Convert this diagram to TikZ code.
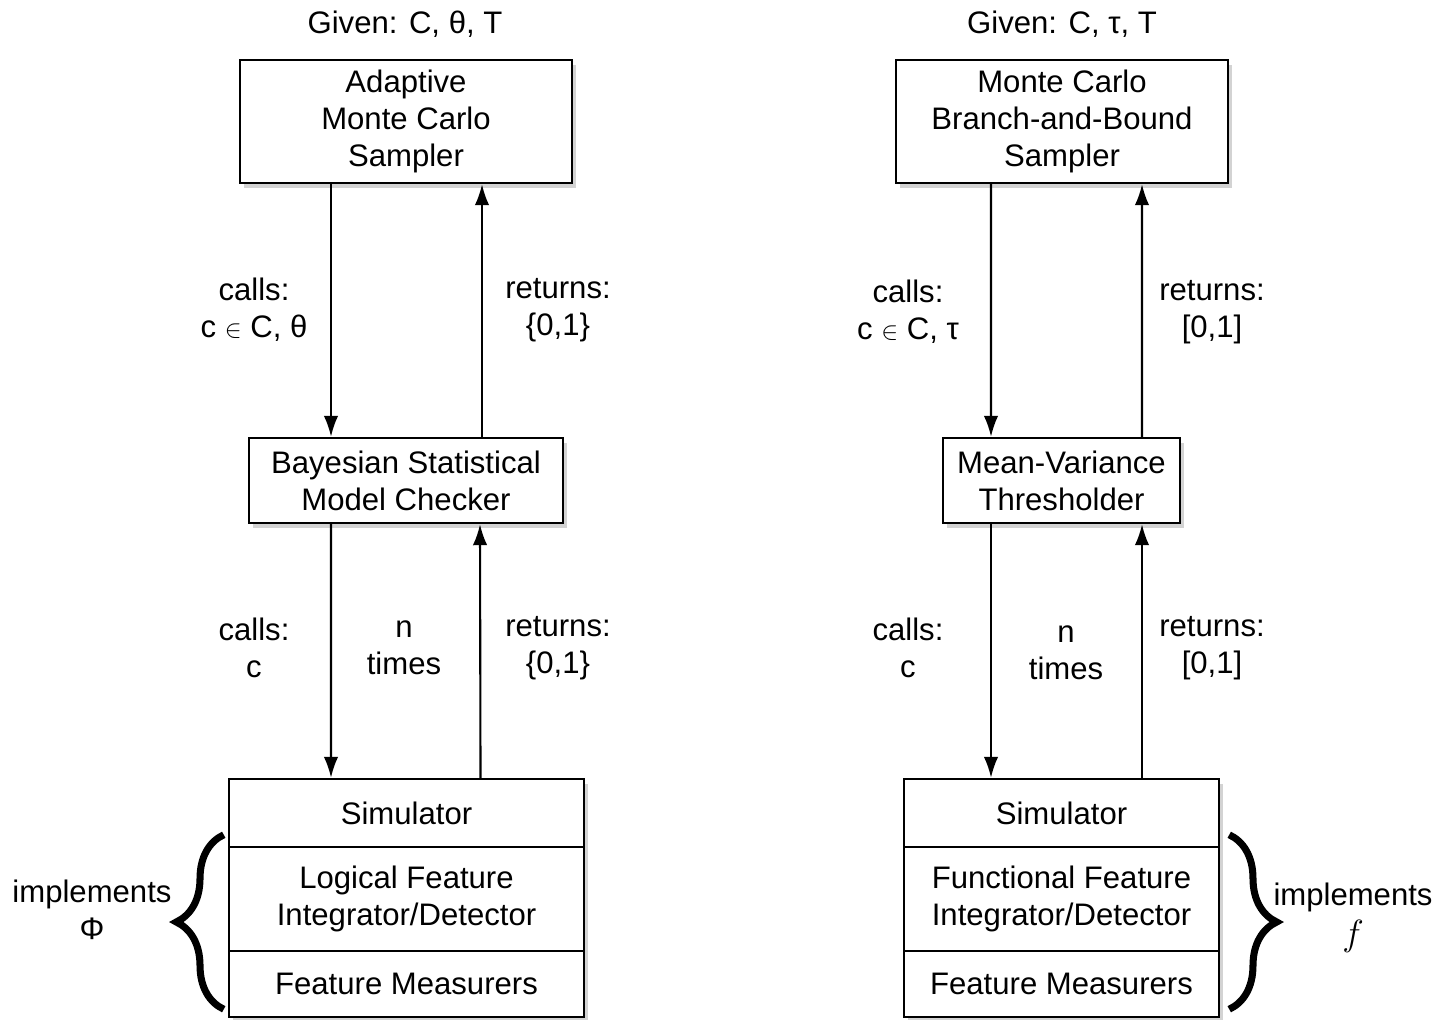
\documentclass[tikz,border=0pt]{standalone}
\usepackage{fontspec}
\setmainfont{Liberation Sans}
\usepackage{tikz}
\usetikzlibrary{arrows.meta,shadows,positioning,decorations.pathreplacing}
\newcommand{\diafont}{\fontsize{17.7}{21}\selectfont}
\newcommand{\smallin}{{\fontsize{14}{14}\selectfont$\in$}}
\tikzstyle{arrow} = [line width=1.2pt,-{Latex[length=0.42cm,width=0.29cm]}]
\tikzstyle{procbox} = [rectangle, draw, line width=1.4pt, fill=white, align=center, inner sep=0pt, font=\diafont, drop shadow={opacity=0.35, shadow xshift=0.08cm, shadow yshift=-0.1cm}]
\tikzstyle{msgtext} = [align=center, font=\diafont]
\tikzstyle{bracemark} = [decorate, decoration={brace, amplitude=0.95cm, aspect=0.5}, line width=4pt]

\begin{document}
\begin{tikzpicture}
\useasboundingbox (0,0) rectangle (29.02,-20.38);
% Left chain
\node[msgtext] (lgiven) at (8.1,-0.48) {Given: C, θ, T};
\node[procbox, minimum width=6.64cm, minimum height=2.46cm] (amc) at (8.12,-2.43) {Adaptive\\Monte Carlo\\Sampler};
\node[procbox, minimum width=6.28cm, minimum height=1.7cm] (bsmc) at (8.12,-9.61) {Bayesian Statistical\\Model Checker};
\node[procbox, minimum width=7.1cm, minimum height=1.36cm] (lsim) at (8.13,-16.26) {Simulator};
\node[procbox, minimum width=7.1cm, minimum height=2.08cm] (lfid) at (8.13,-17.98) {Logical Feature\\Integrator/Detector};
\node[procbox, minimum width=7.1cm, minimum height=1.32cm] (lfm) at (8.13,-19.68) {Feature Measurers};

% Right chain
\node[msgtext] (rgiven) at (21.24,-0.48) {Given: C, τ, T};
\node[procbox, minimum width=6.64cm, minimum height=2.46cm] (mcbb) at (21.24,-2.43) {Monte Carlo\\Branch-and-Bound\\Sampler};
\node[procbox, minimum width=4.74cm, minimum height=1.7cm] (mvt) at (21.23,-9.61) {Mean-Variance\\Thresholder};
\node[procbox, minimum width=6.3cm, minimum height=1.36cm] (rsim) at (21.23,-16.26) {Simulator};
\node[procbox, minimum width=6.3cm, minimum height=2.08cm] (rfid) at (21.23,-17.98) {Functional Feature\\Integrator/Detector};
\node[procbox, minimum width=6.3cm, minimum height=1.32cm] (rfm) at (21.23,-19.68) {Feature Measurers};

% Arrows
\draw[arrow] ([xshift=-1.5cm]amc.south) -- ([xshift=-1.5cm]bsmc.north);
\draw[arrow] ([xshift=1.52cm]bsmc.north) -- ([xshift=1.52cm]amc.south);
\draw[arrow] ([xshift=-1.5cm]bsmc.south) -- ([xshift=-1.51cm]lsim.north);
\draw[arrow] ([xshift=1.48cm]lsim.north) -- ([xshift=1.48cm]bsmc.south);
\draw[arrow] ([xshift=-1.42cm]mcbb.south) -- ([xshift=-1.41cm]mvt.north);
\draw[arrow] ([xshift=1.61cm]mvt.north) -- ([xshift=1.6cm]mcbb.south);
\draw[arrow] ([xshift=-1.41cm]mvt.south) -- ([xshift=-1.41cm]rsim.north);
\draw[arrow] ([xshift=1.61cm]rsim.north) -- ([xshift=1.61cm]mvt.south);

% Labels
\node[msgtext] (lcall1) at (5.08,-6.2) {calls:\\c \smallin{} C, θ};
\node[msgtext] (lret1) at (11.16,-6.2) {returns:\\\{0,1\}};
\node[msgtext] (lcall2) at (5.08,-12.96) {calls:\\c};
\node[msgtext] (ltimes) at (8.08,-12.96) {n\\times};
\node[msgtext] (lret2) at (11.16,-12.96) {returns:\\\{0,1\}};
\node[msgtext] (rcall1) at (18.16,-6.24) {calls:\\c \smallin{} C, τ};
\node[msgtext] (rret1) at (24.24,-6.24) {returns:\\{}[0,1]};
\node[msgtext] (rcall2) at (18.16,-12.96) {calls:\\c};
\node[msgtext] (rtimes) at (21.32,-13.06) {n\\times};
\node[msgtext] (rret2) at (24.24,-12.96) {returns:\\{}[0,1]};

% Braces
\draw[bracemark] ([xshift=-0.08cm,yshift=0.18cm]lfm.south west) -- ([xshift=-0.08cm,yshift=0.22cm]lfid.north west);
\draw[bracemark] ([xshift=0.18cm,yshift=0.22cm]rfid.north east) -- ([xshift=0.18cm,yshift=0.18cm]rfm.south east);
\node[msgtext] (limpl) at (1.84,-18.2) {implements\\Φ};
\node[msgtext] (rimpl) at (27.06,-18.35) {implements\\[2pt]\fontsize{21}{21}\selectfont$f$};
\end{tikzpicture}
\end{document}
